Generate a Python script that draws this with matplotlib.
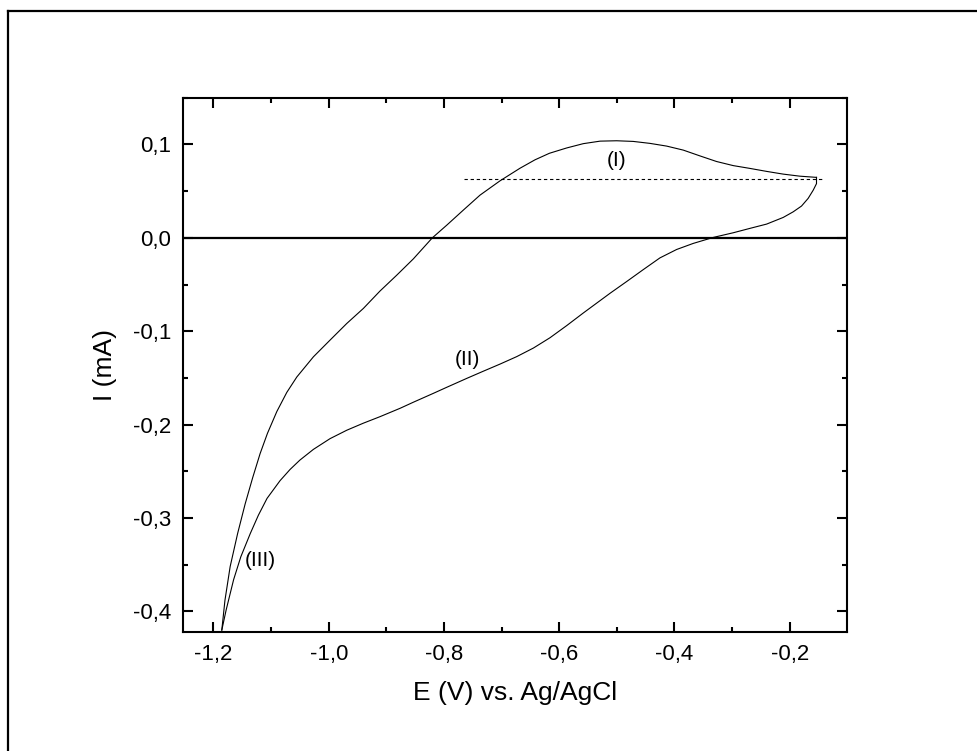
import matplotlib
matplotlib.use("Agg")
import matplotlib.pyplot as plt
from matplotlib.lines import Line2D
from matplotlib.ticker import FixedLocator, MultipleLocator

plt.rcParams['font.family'] = ['Liberation Sans', 'DejaVu Sans']

# Anodic (upper) branch, from -1.19 V back to -0.15 V
upper_E = [-1.1855, -1.180, -1.171, -1.158, -1.145, -1.132, -1.119, -1.1063, -1.090,
           -1.0727, -1.0553, -1.0265, -0.9976, -0.9686, -0.9398, -0.911, -0.8819,
           -0.853, -0.8201, -0.795, -0.7663, -0.7374, -0.7027, -0.668, -0.642, -0.617,
           -0.587, -0.5582, -0.529, -0.5003, -0.4715, -0.4425, -0.4136, -0.3847,
           -0.3558, -0.327, -0.298, -0.269, -0.240, -0.2113, -0.1826, -0.1535]
upper_I = [-0.420, -0.388, -0.352, -0.3165, -0.285, -0.257, -0.231, -0.2094, -0.1860,
           -0.1655, -0.1490, -0.1274, -0.1095, -0.0917, -0.0756, -0.0570, -0.0400,
           -0.0225, 0.000, 0.0136, 0.0297, 0.0457, 0.0610, 0.0745, 0.0835, 0.0905,
           0.0962, 0.1008, 0.1035, 0.1039, 0.1032, 0.1011, 0.0982, 0.0939,
           0.0877, 0.0817, 0.0773, 0.0743, 0.0711, 0.0682, 0.0660, 0.0647]

# Cathodic (lower) branch, from -0.15 V down to -1.19 V
lower_E = [-0.1535, -0.1535, -0.1592, -0.168, -0.1795, -0.194, -0.2113, -0.240, -0.269,
           -0.298, -0.3327, -0.3674, -0.3962, -0.4252, -0.454, -0.4829, -0.5118,
           -0.5582, -0.587, -0.616, -0.6447, -0.6737, -0.7027, -0.7316, -0.7604,
           -0.795, -0.8183, -0.853, -0.876, -0.911, -0.940, -0.9686, -0.9976,
           -1.0265, -1.050, -1.067, -1.0844, -1.107, -1.122, -1.136, -1.1525, -1.165,
           -1.178, -1.1855]
lower_I = [0.0647, 0.058, 0.051, 0.0422, 0.034, 0.0278, 0.0218, 0.0147, 0.0101,
           0.0054, 0.0004, -0.006, -0.0125, -0.0215, -0.0340, -0.0468, -0.0594,
           -0.0805, -0.0940, -0.1070, -0.1180, -0.1272, -0.1352, -0.1428, -0.1505,
           -0.1600, -0.1665, -0.1760, -0.1825, -0.1915, -0.1985, -0.2060, -0.2150,
           -0.2265, -0.2380, -0.2480, -0.2600, -0.2790, -0.297, -0.3165, -0.3415, -0.366,
           -0.3986, -0.420]

# dashed baseline for peak (I)
base_E = [-0.765, -0.142]
base_I = [0.0626, 0.0626]

x_ticks = [-1.2, -1.0, -0.8, -0.6, -0.4, -0.2]
x_ticklabels = ["-1,2", "-1,0", "-0,8", "-0,6", "-0,4", "-0,2"]
y_ticks = [0.1, 0.0, -0.1, -0.2, -0.3, -0.4]
y_ticklabels = ["0,1", "0,0", "-0,1", "-0,2", "-0,3", "-0,4"]

annotations = [("(I)", -0.500, 0.083), ("(II)", -0.760, -0.130), ("(III)", -1.119, -0.346)]

fig = plt.figure(figsize=(9.78, 7.51), dpi=100)
ax = fig.add_axes([0.1876, 0.1585, 0.6782, 0.7114])

ax.plot(upper_E, upper_I, color='black', lw=0.8)
ax.plot(lower_E, lower_I, color='black', lw=0.8)
ax.plot(base_E, base_I, color='black', lw=0.8, ls=(0, (3, 2.5)))
ax.axhline(0.0, color='black', lw=1.6)

for txt, xx, yy in annotations:
    ax.text(xx, yy, txt, fontsize=15, ha='center', va='center')

ax.set_xlim(-1.252, -0.101)
ax.set_ylim(-0.422, 0.150)

ax.xaxis.set_major_locator(FixedLocator(x_ticks))
ax.set_xticklabels(x_ticklabels)
ax.yaxis.set_major_locator(FixedLocator(y_ticks))
ax.set_yticklabels(y_ticklabels)
ax.xaxis.set_minor_locator(MultipleLocator(0.1))
ax.yaxis.set_minor_locator(MultipleLocator(0.05))

ax.tick_params(which='both', direction='in', top=True, right=True, width=1.5,
               labelsize=16)
ax.tick_params(which='major', length=7.5, pad=9)
ax.tick_params(which='minor', length=3.8)
for s in ax.spines.values():
    s.set_linewidth(1.5)

ax.set_xlabel("E (V) vs. Ag/AgCl", fontsize=19, labelpad=11)
ax.set_ylabel("I (mA)", fontsize=19, labelpad=11)

# outer frame (only top and left edges visible)
fig.add_artist(Line2D([8/978, 8/978], [0, 1 - 10.5/751], transform=fig.transFigure,
                      color='black', lw=1.6))
fig.add_artist(Line2D([8/978, 1], [1 - 10.5/751, 1 - 10.5/751], transform=fig.transFigure,
                      color='black', lw=1.6))

fig.savefig("out.png", dpi=100)
